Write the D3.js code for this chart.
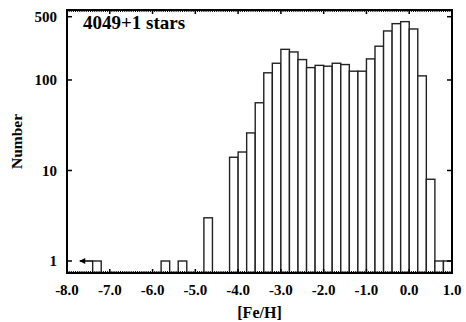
<!DOCTYPE html>
<html>
<head>
<meta charset="utf-8">
<script src="https://cdn.jsdelivr.net/npm/d3@7"></script>
<style>
  body { margin: 0; background: #fff; }
  text { font-family: "Liberation Serif", "DejaVu Serif", serif; font-weight: bold; fill: #000; }
</style>
</head>
<body>
<svg id="chart" width="466" height="322"></svg>
<script>
// histogram of [Fe/H], bins of 0.2 dex (left edges)
var binStarts = [-7.4, -5.8, -5.4, -4.8, -4.2, -4.0, -3.8, -3.6, -3.4, -3.2, -3.0, -2.8, -2.6, -2.4,
                 -2.2, -2.0, -1.8, -1.6, -1.4, -1.2, -1.0, -0.8, -0.6, -0.4, -0.2, 0.0, 0.2, 0.4, 0.6, 0.8];
var counts = [1, 1, 1, 3, 14, 16, 26, 56, 120, 153, 218, 204, 168, 137,
              145, 142, 153, 148, 125, 125, 171, 236, 348, 419, 441, 366, 111, 8, 1, 1];
var binWidth = 0.2;
var xTicks = [-8, -7, -6, -5, -4, -3, -2, -1, 0, 1];
var yTicks = [1, 10, 100, 500];
var title = "4049+1 stars";

var svg = d3.select("#chart"),
    mLeft = 67, mRight = 452, mTop = 10, mBottom = 273;

var x = d3.scaleLinear().domain([-8, 1]).range([mLeft, mRight]);
var y = d3.scaleLog().domain([0.737, 593]).range([mBottom, mTop]);

var bars = binStarts.map(function (s, i) { return { x0: s, x1: s + binWidth, n: counts[i] }; });

svg.append("g").selectAll("rect")
    .data(bars)
    .enter().append("rect")
      .attr("x", function (d) { return x(d.x0); })
      .attr("y", function (d) { return y(d.n); })
      .attr("width", function (d) { return x(d.x1) - x(d.x0); })
      .attr("height", function (d) { return mBottom - y(d.n); })
      .attr("fill", "#fff")
      .attr("stroke", "#222")
      .attr("stroke-width", 1.4);

// minor ticks along top and bottom
var minor = d3.range(-8, 1.0001, 0.05);
var tk = svg.append("g").attr("stroke", "#000");
minor.forEach(function (v) {
  tk.append("line").attr("x1", x(v)).attr("x2", x(v)).attr("y1", mBottom).attr("y2", mBottom - 2).attr("stroke-width", 1);
  tk.append("line").attr("x1", x(v)).attr("x2", x(v)).attr("y1", mTop).attr("y2", mTop + 2).attr("stroke-width", 1);
});
xTicks.forEach(function (v) {
  tk.append("line").attr("x1", x(v)).attr("x2", x(v)).attr("y1", mBottom).attr("y2", mBottom - 4).attr("stroke-width", 1.5);
  tk.append("line").attr("x1", x(v)).attr("x2", x(v)).attr("y1", mTop).attr("y2", mTop + 4).attr("stroke-width", 1.5);
});
yTicks.forEach(function (v) {
  tk.append("line").attr("x1", mLeft).attr("x2", mLeft + 5).attr("y1", y(v)).attr("y2", y(v)).attr("stroke-width", 1.5);
  tk.append("line").attr("x1", mRight).attr("x2", mRight - 5).attr("y1", y(v)).attr("y2", y(v)).attr("stroke-width", 1.5);
});

// frame
svg.append("rect")
    .attr("x", mLeft).attr("y", mTop)
    .attr("width", mRight - mLeft).attr("height", mBottom - mTop)
    .attr("fill", "none").attr("stroke", "#000").attr("stroke-width", 2);

// tick labels (plain hyphen minus, as in the original)
svg.append("g").selectAll("text")
    .data(xTicks)
    .enter().append("text")
      .attr("x", function (d) { return x(d); })
      .attr("y", 295)
      .attr("text-anchor", "middle")
      .attr("font-size", 15)
      .text(function (d) { return d.toFixed(1); });

svg.append("g").selectAll("text")
    .data(yTicks)
    .enter().append("text")
      .attr("x", 57)
      .attr("y", function (d) { return y(d); })
      .attr("dy", "0.35em")
      .attr("text-anchor", "end")
      .attr("font-size", 15)
      .text(function (d) { return d; });

// arrow for the star below -8
var ay = y(1);
svg.append("defs").append("marker")
    .attr("id", "ah").attr("viewBox", "0 0 10 10")
    .attr("refX", 9).attr("refY", 5)
    .attr("markerWidth", 5).attr("markerHeight", 4)
    .attr("orient", "auto")
  .append("path").attr("d", "M0,0 L10,5 L0,10 Z").attr("fill", "#000");
svg.append("line")
    .attr("x1", x(-7.4)).attr("x2", x(-7.7))
    .attr("y1", ay).attr("y2", ay)
    .attr("stroke", "#000").attr("stroke-width", 1.5)
    .attr("marker-end", "url(#ah)");

// labels
svg.append("text")
    .attr("x", 83).attr("y", 29)
    .attr("font-size", 19)
    .text(title);

svg.append("text")
    .attr("x", (mLeft + mRight) / 2).attr("y", 318)
    .attr("text-anchor", "middle")
    .attr("font-size", 16)
    .text("[Fe/H]");

svg.append("text")
    .attr("transform", "translate(22," + (mTop + mBottom) / 2 + ") rotate(-90)")
    .attr("text-anchor", "middle")
    .attr("font-size", 15.5)
    .text("Number");
</script>
</body>
</html>
